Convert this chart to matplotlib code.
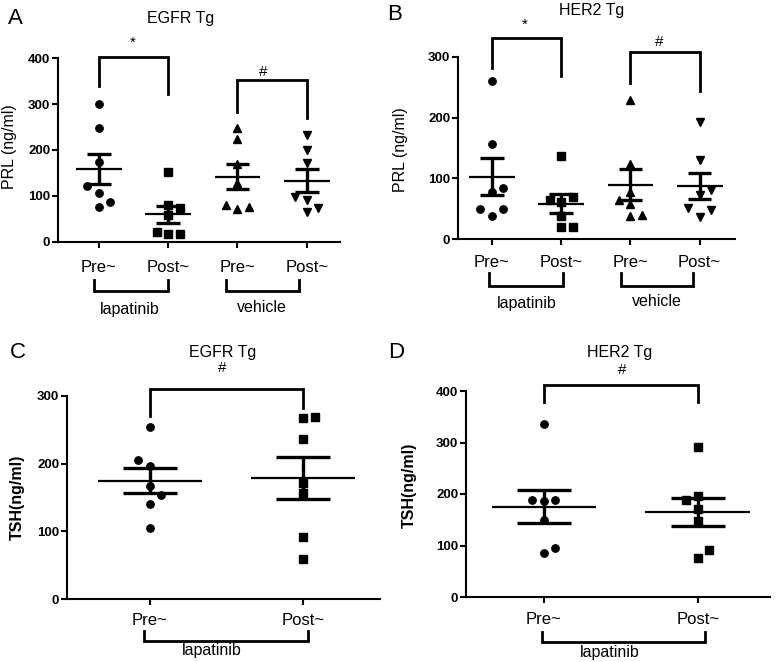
import numpy as np
import matplotlib
matplotlib.use("Agg")
import matplotlib.pyplot as plt

plt.rcParams['font.family'] = ['Liberation Sans', 'DejaVu Sans']

# ---------------- data ----------------
tick_labels_4 = ["Pre~", "Post~", "Pre~", "Post~"]
tick_labels_2 = ["Pre~", "Post~"]
group_labels_4 = ["lapatinib", "vehicle"]
group_labels_2 = ["lapatinib"]

# Panel A: EGFR Tg, PRL (ng/ml)
a_pre_lap = [300, 247, 173, 122, 107, 86, 75]
a_post_lap = [151, 80, 74, 58, 22, 17, 17]
a_pre_veh = [247, 224, 170, 127, 80, 71, 76]
a_post_veh = [233, 200, 172, 98, 91, 65, 74]

# Panel B: HER2 Tg, PRL (ng/ml)
b_pre_lap = [260, 157, 85, 77, 50, 50, 39]
b_post_lap = [137, 69, 65, 61, 38, 20, 20]
b_pre_veh = [229, 123, 77, 64, 58, 39, 40]
b_post_veh = [192, 130, 81, 73, 51, 37, 48]

# Panel C: EGFR Tg, TSH (ng/ml)
c_pre = [254, 206, 196, 167, 153, 141, 105]
c_post = [269, 267, 237, 172, 156, 91, 59]

# Panel D: HER2 Tg, TSH (ng/ml)
d_pre = [336, 188, 186, 188, 150, 86, 96]
d_post = [292, 196, 188, 170, 148, 92, 75]

W, H = 777, 662
fig = plt.figure(figsize=(W / 100, H / 100), dpi=100)


def add_axes(left, right, top, bottom):
    return fig.add_axes([left / W, 1 - bottom / H, (right - left) / W, (bottom - top) / H])


def style_axes(ax, xlim, ylim, yticks, labels, ylabel, ybold, pad):
    ax.set_xlim(*xlim)
    ax.set_ylim(*ylim)
    for s in ["top", "right"]:
        ax.spines[s].set_visible(False)
    for s in ["left", "bottom"]:
        ax.spines[s].set_linewidth(1.5)
    ax.set_yticks(yticks)
    ax.set_yticklabels([str(t) for t in yticks], fontweight="bold", fontsize=9.5)
    ax.set_xticks(range(len(labels)))
    ax.set_xticklabels(labels, fontsize=12)
    ax.tick_params(axis="both", width=1.5, length=4, direction="out")
    ax.tick_params(axis="x", pad=pad)
    ax.tick_params(axis="y", pad=1.5)
    ax.set_ylabel(ylabel, fontsize=11.5, fontweight="bold" if ybold else "normal")


def swarm_offsets(ax, xpos, vals, slot_px=11.5, diam_px=9.5):
    """Simple beeswarm: returns x positions in data units."""
    order = np.argsort(vals, kind="stable")
    placed = []
    out = np.zeros(len(vals))
    x0_px = ax.transData.transform((xpos, 0))[0]
    x1_px = ax.transData.transform((xpos + 1, 0))[0]
    unit_px = x1_px - x0_px
    side = 1
    for i in order:
        ypx = ax.transData.transform((xpos, vals[i]))[1]
        candidates = [0]
        for n in range(1, 5):
            candidates += [side * n, -side * n]
        for c in candidates:
            xpx = c * slot_px
            if all(np.hypot(xpx - px, ypx - py) >= diam_px for px, py in placed):
                if c != 0:
                    side = -np.sign(c)
                placed.append((xpx, ypx))
                out[i] = xpos + c * slot_px / unit_px
                break
    return out


def draw_group(ax, xpos, vals, marker, ms=5.3, half_mean=0.33, half_cap=0.17):
    vals = np.asarray(vals, dtype=float)
    xs = swarm_offsets(ax, xpos, vals)
    ax.plot(xs, vals, linestyle="none", marker=marker, color="black",
            markersize=ms, zorder=3, clip_on=False)
    m = vals.mean()
    sem = vals.std(ddof=1) / np.sqrt(len(vals))
    ax.hlines(m, xpos - half_mean, xpos + half_mean, color="black", lw=1.6, zorder=4)
    ax.hlines([m - sem, m + sem], xpos - half_cap, xpos + half_cap, color="black", lw=2.4, zorder=4)
    ax.vlines(xpos, m - sem, m + sem, color="black", lw=2.4, zorder=4)


def sig_bracket(ax, x1, x2, top, leg1, leg2, text, tx, ty, fs=11):
    ax.plot([x1, x1, x2, x2], [leg1, top, top, leg2], color="black", lw=2.0,
            clip_on=False, solid_joinstyle="miter")
    ax.text(tx, ty, text, ha="center", va="center", fontsize=fs)


def group_bracket(ax, x1, x2, px_top, px_bot, label, lx, px_label):
    h_px = ax.get_position().height * H
    trans = ax.get_xaxis_transform()
    y1, y2, yl = -px_top / h_px, -px_bot / h_px, -px_label / h_px
    ax.plot([x1, x1, x2, x2], [y1, y2, y2, y1], color="black", lw=2.0,
            transform=trans, clip_on=False, solid_joinstyle="miter")
    ax.text(lx, yl, label, transform=trans, ha="center", va="center", fontsize=11.5)


def fig_text(xp, yp, s, **kw):
    fig.text(xp / W, 1 - yp / H, s, ha="center", va="center", **kw)


# ---------------- Panel A ----------------
axA = add_axes(58, 340, 58.3, 241.7)
style_axes(axA, (-0.59, 3.48), (0, 400), [0, 100, 200, 300, 400], tick_labels_4,
           "PRL (ng/ml)", False, 9)
draw_group(axA, 0, a_pre_lap, "o")
draw_group(axA, 1, a_post_lap, "s")
draw_group(axA, 2, a_pre_veh, "^", ms=5.7)
draw_group(axA, 3, a_post_veh, "v", ms=5.7)
sig_bracket(axA, 0, 1, 403, 340, 322, "*", 0.49, 433)
sig_bracket(axA, 2, 3, 352, 283, 270, "#", 2.37, 371)
group_bracket(axA, -0.07, 1.0, 38, 49.7, group_labels_4[0], 0.45, 68)
group_bracket(axA, 1.83, 2.89, 38, 49.7, group_labels_4[1], 2.35, 66)
axA.yaxis.set_label_coords(-0.145, 0.52)

# ---------------- Panel B ----------------
axB = add_axes(458, 735, 56.7, 239.3)
style_axes(axB, (-0.49, 3.51), (0, 300), [0, 100, 200, 300], tick_labels_4,
           "PRL (ng/ml)", False, 7.5)
draw_group(axB, 0, b_pre_lap, "o")
draw_group(axB, 1, b_post_lap, "s")
draw_group(axB, 2, b_pre_veh, "^", ms=5.7)
draw_group(axB, 3, b_post_veh, "v", ms=5.7)
sig_bracket(axB, 0, 1, 330, 281, 268, "*", 0.48, 352)
sig_bracket(axB, 2, 3, 308, 257, 244, "#", 2.42, 324)
group_bracket(axB, -0.04, 1.02, 34, 46.4, group_labels_4[0], 0.5, 64)
group_bracket(axB, 1.86, 2.91, 34, 46.4, group_labels_4[1], 2.38, 62)
axB.yaxis.set_label_coords(-0.18, 0.49)

# ---------------- Panel C ----------------
axC = add_axes(67, 380, 396, 599)
style_axes(axC, (-0.54, 1.50), (0, 300), [0, 100, 200, 300], tick_labels_2,
           "TSH(ng/ml)", True, 6)
draw_group(axC, 0, c_pre, "o", half_mean=0.34, half_cap=0.176)
draw_group(axC, 1, c_post, "s", half_mean=0.34, half_cap=0.176)
sig_bracket(axC, 0, 1, 310, 270, 283, "#", 0.47, 341)
group_bracket(axC, -0.04, 1.03, 32, 42, group_labels_2[0], 0.405, 52)
axC.yaxis.set_label_coords(-0.134, 0.5)

# ---------------- Panel D ----------------
axD = add_axes(466, 770, 391, 597)
style_axes(axD, (-0.506, 1.47), (0, 400), [0, 100, 200, 300, 400], tick_labels_2,
           "TSH(ng/ml)", True, 7)
draw_group(axD, 0, d_pre, "o", half_mean=0.34, half_cap=0.176)
draw_group(axD, 1, d_post, "s", half_mean=0.34, half_cap=0.176)
sig_bracket(axD, 0, 1, 412, 379, 379, "#", 0.51, 441)
group_bracket(axD, -0.015, 1.045, 35, 45, group_labels_2[0], 0.43, 56)
axD.yaxis.set_label_coords(-0.161, 0.54)

# ---------------- titles and panel letters ----------------
fig_text(181, 18, "EGFR Tg", fontsize=11.5)
fig_text(592, 10, "HER2 Tg", fontsize=11.5)
fig_text(223, 352, "EGFR Tg", fontsize=11.5)
fig_text(620, 352, "HER2 Tg", fontsize=11.5)
fig_text(15, 18, "A", fontsize=16)
fig_text(395, 15, "B", fontsize=16)
fig_text(18, 353, "C", fontsize=16)
fig_text(396, 353, "D", fontsize=16)

fig.savefig("out.png", dpi=100, facecolor="white")
